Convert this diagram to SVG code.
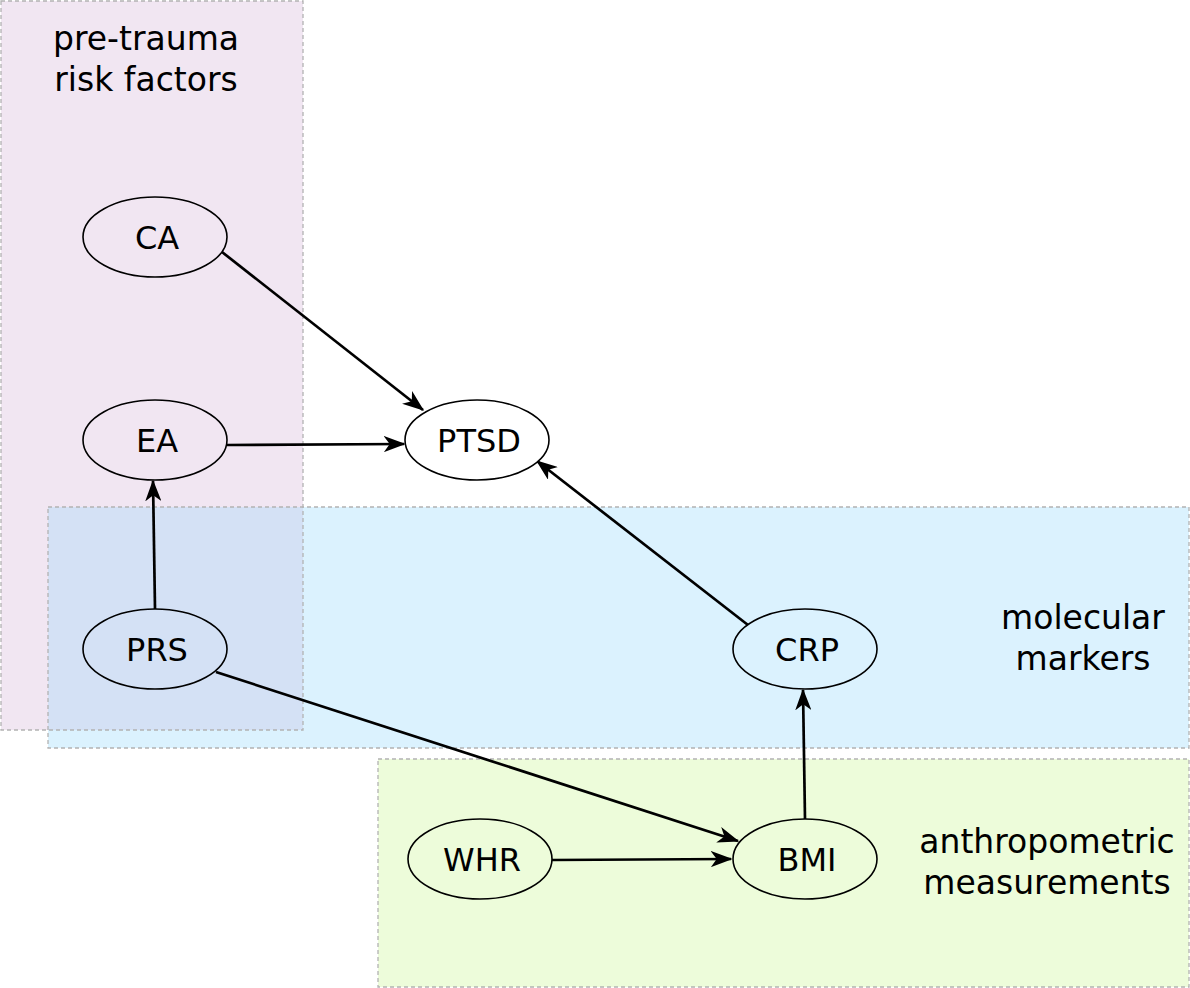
<svg xmlns="http://www.w3.org/2000/svg" width="1190" height="988" viewBox="0 0 1190 988">
<style>
.grp{stroke:#b3b3b3;stroke-width:1.3;stroke-dasharray:4 3;fill:none}
.lbl{font-family:"DejaVu Sans",sans-serif;font-size:33px;fill:#000;text-anchor:middle}
.nl{font-family:"DejaVu Sans",sans-serif;font-size:32px;fill:#000;text-anchor:middle}
.node ellipse{stroke:#000;stroke-width:1.6}
.edge{stroke:#000;stroke-width:2.7;fill:none;marker-end:url(#arr)}
</style>
<defs>
<marker id="arr" markerWidth="8" markerHeight="6" refX="7.5" refY="3" orient="auto" markerUnits="strokeWidth" viewBox="0 0 8 6">
<path d="M0,0 L8,3 L0,6 L2.2,3 z" fill="#000"/>
</marker>
</defs>
<g id="groups">
<rect x="1" y="1" width="302" height="729" fill="#f1e6f2"/>
<rect x="48" y="507" width="1141" height="241" fill="#dbf2fe"/>
<rect x="48" y="507" width="255" height="223" fill="#d4e1f5"/>
<rect x="378" y="759" width="811" height="228" fill="#edfcda"/>
<rect class="grp" x="1" y="1" width="302" height="729"/>
<rect class="grp" x="48" y="507" width="1141" height="241"/>
<rect class="grp" x="378" y="759" width="811" height="228"/>
<text class="lbl"><tspan x="146" y="50">pre-trauma</tspan><tspan x="146" y="91">risk factors</tspan></text>
<text class="lbl"><tspan x="1083" y="629">molecular</tspan><tspan x="1083" y="670">markers</tspan></text>
<text class="lbl"><tspan x="1047" y="853">anthropometric</tspan><tspan x="1047" y="894">measurements</tspan></text>
</g>
<g id="connectors">
<line class="edge" x1="222" y1="252" x2="423" y2="410"/>
<line class="edge" x1="227" y1="445" x2="404" y2="444"/>
<line class="edge" x1="155" y1="609" x2="153" y2="481"/>
<line class="edge" x1="748" y1="625" x2="537" y2="461"/>
<line class="edge" x1="216" y1="672" x2="738" y2="841"/>
<line class="edge" x1="552" y1="860" x2="731" y2="859"/>
<line class="edge" x1="805" y1="819" x2="803" y2="690"/>
</g>
<g id="CA" class="node"><ellipse cx="155" cy="237" rx="72" ry="40" fill="#f1e6f2"/><text class="nl" x="157" y="249">CA</text></g>
<g id="EA" class="node"><ellipse cx="155" cy="440" rx="72" ry="40" fill="#f1e6f2"/><text class="nl" x="157" y="452">EA</text></g>
<g id="PRS" class="node"><ellipse cx="155" cy="649" rx="72" ry="40" fill="#d4e1f5"/><text class="nl" x="157" y="661">PRS</text></g>
<g id="PTSD" class="node"><ellipse cx="477" cy="440" rx="72" ry="40" fill="#fff"/><text class="nl" x="479" y="452">PTSD</text></g>
<g id="CRP" class="node"><ellipse cx="805" cy="649" rx="72" ry="40" fill="#dbf2fe"/><text class="nl" x="807" y="661">CRP</text></g>
<g id="WHR" class="node"><ellipse cx="480" cy="859" rx="72" ry="40" fill="#edfcda"/><text class="nl" x="482" y="871">WHR</text></g>
<g id="BMI" class="node"><ellipse cx="805" cy="859" rx="72" ry="40" fill="#edfcda"/><text class="nl" x="807" y="871">BMI</text></g>
</svg>
